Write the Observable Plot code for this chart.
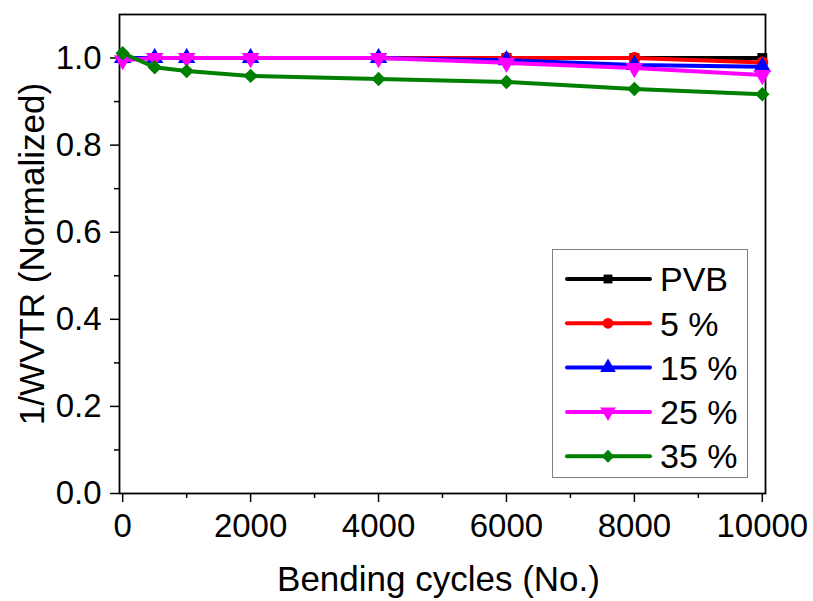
<!DOCTYPE html>
<html><head><meta charset="utf-8">
<script src="https://cdn.jsdelivr.net/npm/d3@7"></script>
<script src="https://cdn.jsdelivr.net/npm/@observablehq/plot@0.6"></script>
<style>body{margin:0;background:#fff}</style>
</head><body><div id="chart"></div>
<script>
const cycles = [0, 500, 1000, 2000, 4000, 6000, 8000, 10000];
const seriesNames = ["PVB", "5 %", "15 %", "25 %", "35 %"];
const pvb = [1, 1, 1, 1, 1, 1, 1, 1];
const p5 = [1, 1, 1, 1, 1, 1, 1, 0.99];
const p15 = [1, 1, 1, 1, 1, 0.995, 0.984, 0.98];
const p25 = [0.995, 1, 1, 1, 1, 0.989, 0.977, 0.961];
const p35 = [1.011, 0.979, 0.970, 0.959, 0.952, 0.945, 0.929, 0.917];
const colors = ["#000000", "#ff0000", "#0000ff", "#ff00ff", "#008000"];
const xTicks = [0, 2000, 4000, 6000, 8000, 10000];
const xMinor = [1000, 3000, 5000, 7000, 9000];
const yTicks = [0, 0.2, 0.4, 0.6, 0.8, 1.0];
const yMinor = [0.1, 0.3, 0.5, 0.7, 0.9];
const xTitle = "Bending cycles (No.)";
const yTitle = "1/WVTR (Normalized)";

const triDown = {
  draw(context, size) {
    const y = -Math.sqrt(size / (Math.sqrt(3) * 3));
    context.moveTo(0, -y * 2);
    context.lineTo(-Math.sqrt(3) * y, y);
    context.lineTo(Math.sqrt(3) * y, y);
    context.closePath();
  }
};
const symbols = ["square", "circle", "triangle", triDown, "diamond2"];
const radii = [5.6, 6, 6.5, 6.5, 6.5];

const allValues = [pvb, p5, p15, p25, p35];
const data = [];
seriesNames.forEach((s, i) => {
  cycles.forEach((c, j) => data.push({series: s, idx: i, x: c, y: allValues[i][j]}));
});

const font = "'Liberation Sans', Arial, sans-serif";
const marks = [];
seriesNames.forEach((s, i) => {
  const d = data.filter(r => r.idx === i);
  marks.push(Plot.line(d, {x: "x", y: "y", stroke: colors[i], strokeWidth: 4}));
  marks.push(Plot.dot(d, {x: "x", y: "y", fill: colors[i], stroke: "none", symbol: () => symbols[i], r: radii[i]}));
});

const chart = Plot.plot({
  width: 813,
  height: 601,
  marginLeft: 119,
  marginRight: 48,
  marginTop: 14,
  marginBottom: 108,
  style: {fontFamily: font, background: "#fff", overflow: "visible"},
  x: {domain: [-50, 10050]},
  y: {domain: [0, 1.1]},
  symbol: {type: "identity"},
  marks: [
    Plot.axisX(xTicks, {tickSize: 9, tickPadding: 11, fontSize: 33, label: null, tickFormat: d3.format("d"), strokeWidth: 1.5}),
    Plot.axisX(xMinor, {tickSize: 5, tickFormat: () => "", label: null, strokeWidth: 1.5}),
    Plot.axisY(yTicks, {tickSize: 9, tickPadding: 9, fontSize: 33, label: null, tickFormat: d3.format(".1f"), strokeWidth: 1.5}),
    Plot.axisY(yMinor, {tickSize: 5, tickFormat: () => "", label: null, strokeWidth: 1.5}),
    Plot.frame({stroke: "#000", strokeWidth: 1.8}),
    ...marks,
    Plot.text([xTitle], {text: d => d, frameAnchor: "bottom", lineAnchor: "middle", dy: 86, dx: -4, fontSize: 35, fill: "#000"}),
    Plot.text([yTitle], {text: d => d, frameAnchor: "left", textAnchor: "middle", lineAnchor: "middle", dx: -87, rotate: -90, fontSize: 35, fill: "#000"})
  ]
});
document.getElementById("chart").appendChild(chart);

// legend
const svg = d3.select(chart);
const lg = svg.append("g").attr("font-family", font).attr("text-anchor", "start");
lg.append("rect").attr("x", 552.5).attr("y", 249.5).attr("width", 195).attr("height", 228)
  .attr("fill", "#fff").attr("stroke", "#808080").attr("stroke-width", 1);
seriesNames.forEach((s, i) => {
  const cy = 279 + i * 44.3;
  lg.append("line").attr("x1", 567).attr("x2", 650).attr("y1", cy).attr("y2", cy)
    .attr("stroke", colors[i]).attr("stroke-width", 4).attr("stroke-linecap", "round");
  const sym = typeof symbols[i] === "string" ? {square: d3.symbolSquare, circle: d3.symbolCircle, triangle: d3.symbolTriangle, diamond2: d3.symbolDiamond2}[symbols[i]] : symbols[i];
  lg.append("path").attr("transform", `translate(608,${cy})`)
    .attr("d", d3.symbol(sym, Math.PI * radii[i] * radii[i] * 0.8)()).attr("fill", colors[i]);
  lg.append("text").attr("x", 660).attr("y", cy).attr("dy", "0.36em")
    .attr("font-size", 34).attr("fill", "#000").attr("text-anchor", "start").text(s);
});
</script>
</body></html>
